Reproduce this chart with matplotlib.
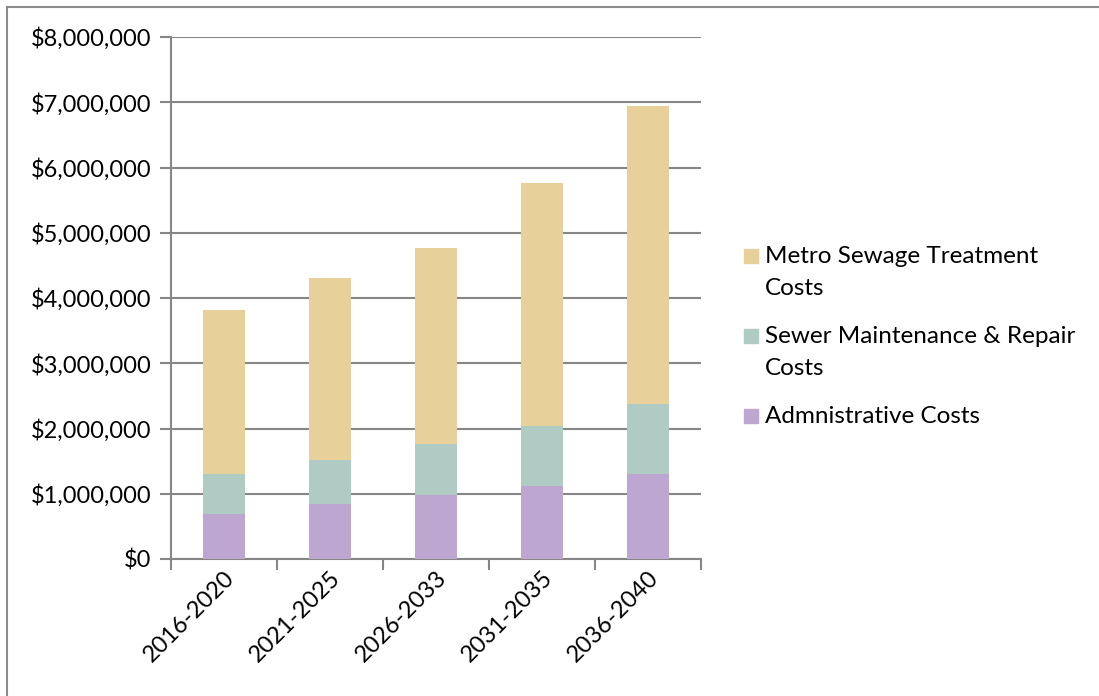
import matplotlib
matplotlib.use("Agg")
import matplotlib.pyplot as plt
from matplotlib.patches import Rectangle
from matplotlib.lines import Line2D
from matplotlib.ticker import FuncFormatter, MultipleLocator
import numpy as np

categories = ["2016-2020", "2021-2025", "2026-2033", "2031-2035", "2036-2040"]
admin = [690000, 840000, 975000, 1120000, 1300000]
maintenance = [610000, 680000, 795000, 920000, 1070000]
metro = [2510000, 2790000, 3000000, 3720000, 4580000]
series_names = ["Metro Sewage Treatment\nCosts", "Sewer Maintenance & Repair\nCosts", "Admnistrative Costs"]
colors = {"metro": "#E8D09B", "maint": "#B0CBC3", "admin": "#BDA7D1"}

plt.rcParams['font.family'] = ['Lato', 'DejaVu Sans']

fig = plt.figure(figsize=(10.99, 6.96), dpi=100)
ax = fig.add_axes([171/1099, 1-559/696, (701-171)/1099, (559-37)/696])

x = np.arange(len(categories))
w = 0.4
admin_a = np.array(admin)
maint_a = np.array(maintenance)
metro_a = np.array(metro)
ax.bar(x, admin_a, w, color=colors["admin"], zorder=3)
ax.bar(x, maint_a, w, bottom=admin_a, color=colors["maint"], zorder=3)
ax.bar(x, metro_a, w, bottom=admin_a + maint_a, color=colors["metro"], zorder=3)

ax.set_xlim(-0.5, len(categories) - 0.5)
ax.set_ylim(0, 8000000)
ax.yaxis.set_major_locator(MultipleLocator(1000000))
ax.yaxis.set_major_formatter(FuncFormatter(lambda v, p: "${:,.0f}".format(v)))
ax.grid(axis='y', color='#868686', linewidth=1.5, zorder=0)
for s in ['top', 'right']:
    ax.spines[s].set_visible(False)
for s in ['left', 'bottom']:
    ax.spines[s].set_color('#868686')
    ax.spines[s].set_linewidth(1.5)

ax.set_xticks(x)
ax.set_xticklabels(categories, rotation=45, ha='right', va='top', rotation_mode='anchor', fontsize=17)
ax.tick_params(axis='x', length=0, pad=6)
ax.set_xticks(np.arange(-0.5, len(categories) + 0.5, 1), minor=True)
ax.tick_params(axis='x', which='minor', length=8, width=1.5, color='#868686')
ax.tick_params(axis='y', length=8, width=1.5, color='#868686', labelsize=17, pad=6)

# legend drawn manually
leg_colors = [colors["metro"], colors["maint"], colors["admin"]]
tops = [256, 336, 416]
for name, c, yy in zip(series_names, leg_colors, tops):
    fig.patches.append(Rectangle((744/1099, 1-(yy+7)/696), 14/1099, 14/696,
                                 transform=fig.transFigure, color=c, figure=fig))
    fig.text(765/1099, 1-(yy-10)/696, name, fontsize=17.5, va='top', ha='left', linespacing=1.62)

# outer border (left and top only)
fig.lines.append(Line2D([7/1099, 7/1099], [0, 1-7/696], transform=fig.transFigure,
                        color='#8c8c8c', linewidth=1.5, figure=fig))
fig.lines.append(Line2D([7/1099, 1], [1-7/696, 1-7/696], transform=fig.transFigure,
                        color='#8c8c8c', linewidth=1.5, figure=fig))

fig.savefig("out.png", dpi=100)
